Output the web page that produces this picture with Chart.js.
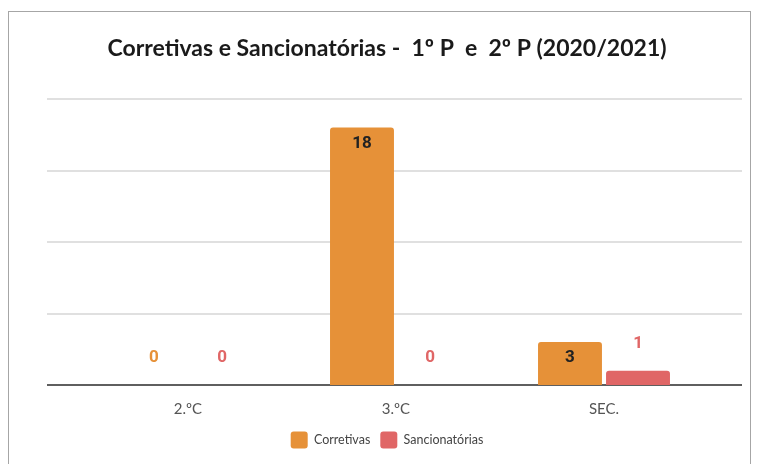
<!DOCTYPE html>
<html>
<head>
<meta charset="utf-8">
<script src="https://cdn.jsdelivr.net/npm/chart.js@4/dist/chart.umd.min.js"></script>
<style>
  html, body { margin: 0; padding: 0; background: #fff; }
  #wrap { position: relative; width: 757px; height: 464px; overflow: hidden; }
  #frame { position: absolute; left: 8px; top: 11px; width: 743px; height: 470px; border: 1px solid #a6a6a6; box-sizing: border-box; }
  canvas { position: absolute; left: 0; top: 0; }
</style>
</head>
<body>
<div id="wrap">
  <div id="frame"></div>
  <canvas id="chart" width="757" height="464"></canvas>
</div>
<script>
const categories = ['2.ºC', '3.ºC', 'SEC.'];
const corretivas = [0, 18, 3];
const sancionatorias = [0, 0, 1];
const yTicks = [0, 5, 10, 15, 20];

const corOrange = '#e69138';
const corRed = '#e06666';

// linhas de grade que passam um pouco além da área do gráfico
const gridLines = {
    id: 'gridLines',
    beforeDatasetsDraw(chart) {
        const c = chart.ctx;
        const y = chart.scales.y;
        c.save();
        yTicks.forEach(v => {
            const py = Math.round(y.getPixelForValue(v));
            c.beginPath();
            if (v === 0) {
                c.strokeStyle = '#5f5f5f';
                c.lineWidth = 2;
            } else {
                c.strokeStyle = '#d6d6d6';
                c.lineWidth = 1.5;
            }
            c.moveTo(47, py);
            c.lineTo(742, py);
            c.stroke();
        });
        c.restore();
    }
};

// rótulos de valor (dentro da barra se couber, senão acima)
const valueLabels = {
    id: 'valueLabels',
    afterDatasetsDraw(chart) {
        const c = chart.ctx;
        c.save();
        c.font = 'bold 17px Roboto';
        c.textAlign = 'center';
        c.textBaseline = 'middle';
        chart.data.datasets.forEach((ds, i) => {
            chart.getDatasetMeta(i).data.forEach((bar, j) => {
                const h = bar.base - bar.y;
                if (h > 30) {
                    c.fillStyle = '#222';
                    c.fillText(ds.data[j], bar.x, bar.y + 16);
                } else {
                    c.fillStyle = ds.backgroundColor;
                    c.fillText(ds.data[j], bar.x, bar.y - 27);
                }
            });
        });
        c.restore();
    }
};

new Chart(document.getElementById('chart'), {
    type: 'bar',
    data: {
        labels: categories,
        datasets: [
            {
                label: 'Corretivas',
                data: corretivas,
                backgroundColor: corOrange,
                borderRadius: { topLeft: 3, topRight: 3 },
                borderSkipped: 'bottom'
            },
            {
                label: 'Sancionatórias',
                data: sancionatorias,
                backgroundColor: corRed,
                borderRadius: { topLeft: 3, topRight: 3 },
                borderSkipped: 'bottom'
            }
        ]
    },
    options: {
        responsive: false,
        animation: false,
        categoryPercentage: 0.654,
        barPercentage: 0.94,
        layout: {
            padding: { left: 66, right: 49, top: 0, bottom: 5.5 }
        },
        scales: {
            x: {
                grid: { display: false, drawTicks: false },
                border: { display: false },
                ticks: {
                    color: '#555',
                    padding: 15,
                    font: { family: 'Lato', size: 15 }
                },
                afterFit(scale) { scale.height = 36.5; }
            },
            y: {
                min: 0,
                max: 20,
                ticks: { display: false, stepSize: 5 },
                grid: { display: false },
                border: { display: false },
                afterFit(scale) { scale.width = 18; }
            }
        },
        plugins: {
            title: {
                display: true,
                text: 'Corretivas e Sancionatórias -  1º P  e  2º P (2020/2021)',
                color: '#1a1a1a',
                font: { family: 'Lato', size: 23, weight: 'bold' },
                padding: { top: 35, bottom: 36.4 }
            },
            legend: {
                position: 'bottom',
                labels: {
                    boxWidth: 17,
                    boxHeight: 17,
                    padding: 10,
                    color: '#444',
                    font: { family: 'Lato', size: 12.5 },
                    useBorderRadius: true,
                    borderRadius: 3
                }
            },
            tooltip: { enabled: false }
        }
    },
    plugins: [gridLines, valueLabels]
});
</script>
</body>
</html>
